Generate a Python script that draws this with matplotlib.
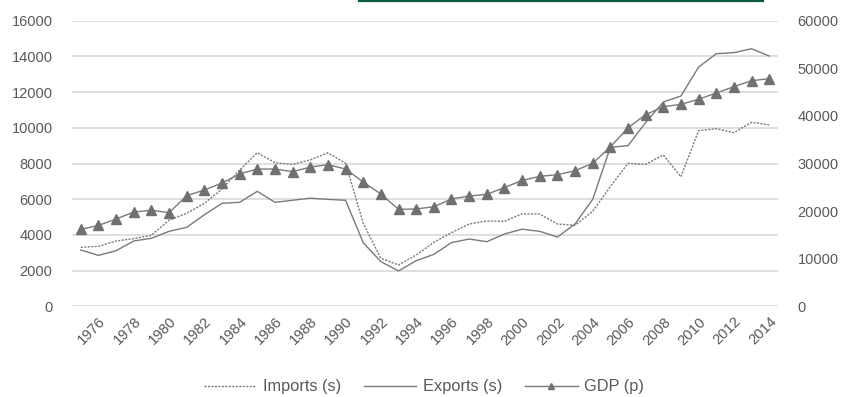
import matplotlib
matplotlib.use("Agg")
import matplotlib.pyplot as plt
from matplotlib.lines import Line2D
import numpy as np

# data, 1975-2014
years = list(range(1975, 2015))
imports = [3305, 3360, 3660, 3790, 3980, 4830, 5210, 5770, 6570, 7635,
           8600, 8045, 7950, 8200, 8600, 8010, 4650, 2690, 2315, 2875,
           3585, 4125, 4610, 4780, 4760, 5180, 5170, 4610, 4540, 5320,
           6700, 8010, 7950, 8475, 7260, 9840, 9950, 9725, 10310, 10160]
exports = [3150, 2855, 3115, 3660, 3810, 4200, 4425, 5130, 5770, 5825,
           6440, 5825, 5940, 6060, 5990, 5940, 3565, 2500, 1980, 2555,
           2910, 3565, 3770, 3620, 4050, 4320, 4200, 3880, 4610, 5990,
           8905, 9000, 10290, 11445, 11780, 13400, 14150, 14210, 14430, 14020]
gdp = [16170, 17000, 18340, 19800, 20170, 19670, 23240, 24430, 25900, 27800,
       28840, 28840, 28280, 29250, 29750, 28840, 26100, 23590, 20370, 20440,
       20920, 22540, 23170, 23520, 24950, 26430, 27300, 27650, 28490, 30040,
       33470, 37500, 40250, 41930, 42430, 43490, 44810, 46140, 47400, 47820]

left_ticks = [0, 2000, 4000, 6000, 8000, 10000, 12000, 14000, 16000]
right_ticks = [0, 10000, 20000, 30000, 40000, 50000, 60000]

txt = "#595959"
line_c = "#7a7a7a"
grid_c = "#d9d9d9"
plt.rcParams['font.family'] = ['Liberation Sans', 'DejaVu Sans']

fig = plt.figure(figsize=(8.44, 3.97), dpi=100)
ax = fig.add_axes([72 / 844, 1 - 306.3 / 397, (778 - 72) / 844, (306.3 - 20.7) / 397])
ax2 = ax.twinx()

x = np.arange(len(years))
ax.plot(x, imports, color=line_c, lw=1, ls=(0, (1.5, 1)), zorder=3)
ax.plot(x, exports, color=line_c, lw=1, zorder=3)
ax2.plot(x, gdp, color=line_c, lw=1, marker="^", ms=6.5, mfc="#707070",
         mec="#707070", zorder=3)

ax.set_xlim(-0.5, len(years) - 0.5)
ax.set_ylim(0, 16000)
ax2.set_ylim(0, 60000)
ax.set_yticks(left_ticks)
ax2.set_yticks(right_ticks)
ax.grid(axis="y", color=grid_c, lw=1.2)
ax.set_axisbelow(True)

ax.set_xticks(x[1::2])
ax.set_xticklabels([str(y) for y in years[1::2]], rotation=45, ha="right",
                   rotation_mode="anchor", fontsize=10.5, color=txt)
ax.tick_params(axis="x", length=0, pad=6)
ax.tick_params(axis="y", length=0, labelsize=10.5, labelcolor=txt, pad=14)
ax2.tick_params(axis="y", length=0, labelsize=10.5, labelcolor=txt, pad=14)

for a in (ax, ax2):
    for s in a.spines.values():
        s.set_visible(False)

handles = [
    Line2D([], [], color=line_c, lw=1, ls=(0, (1.5, 1))),
    Line2D([], [], color=line_c, lw=1),
    Line2D([], [], color=line_c, lw=1, marker="^", ms=5, mfc="#707070", mec="#707070"),
]
fig.legend(handles, ["Imports (s)", "Exports (s)", "GDP (p)"], loc="center",
           bbox_to_anchor=(424 / 844, 1 - 387 / 397), ncol=3, frameon=False,
           fontsize=11.8, labelcolor=txt, handlelength=3.2, columnspacing=1.4,
           handletextpad=0.4, borderpad=0)

# dark green strip at the top edge
fig.add_artist(Line2D([359 / 844, 763 / 844], [1 - 0.8 / 397, 1 - 0.8 / 397],
                      color="#0b5a46", lw=1.6, transform=fig.transFigure))

fig.savefig("out.png", dpi=100, facecolor="white")
